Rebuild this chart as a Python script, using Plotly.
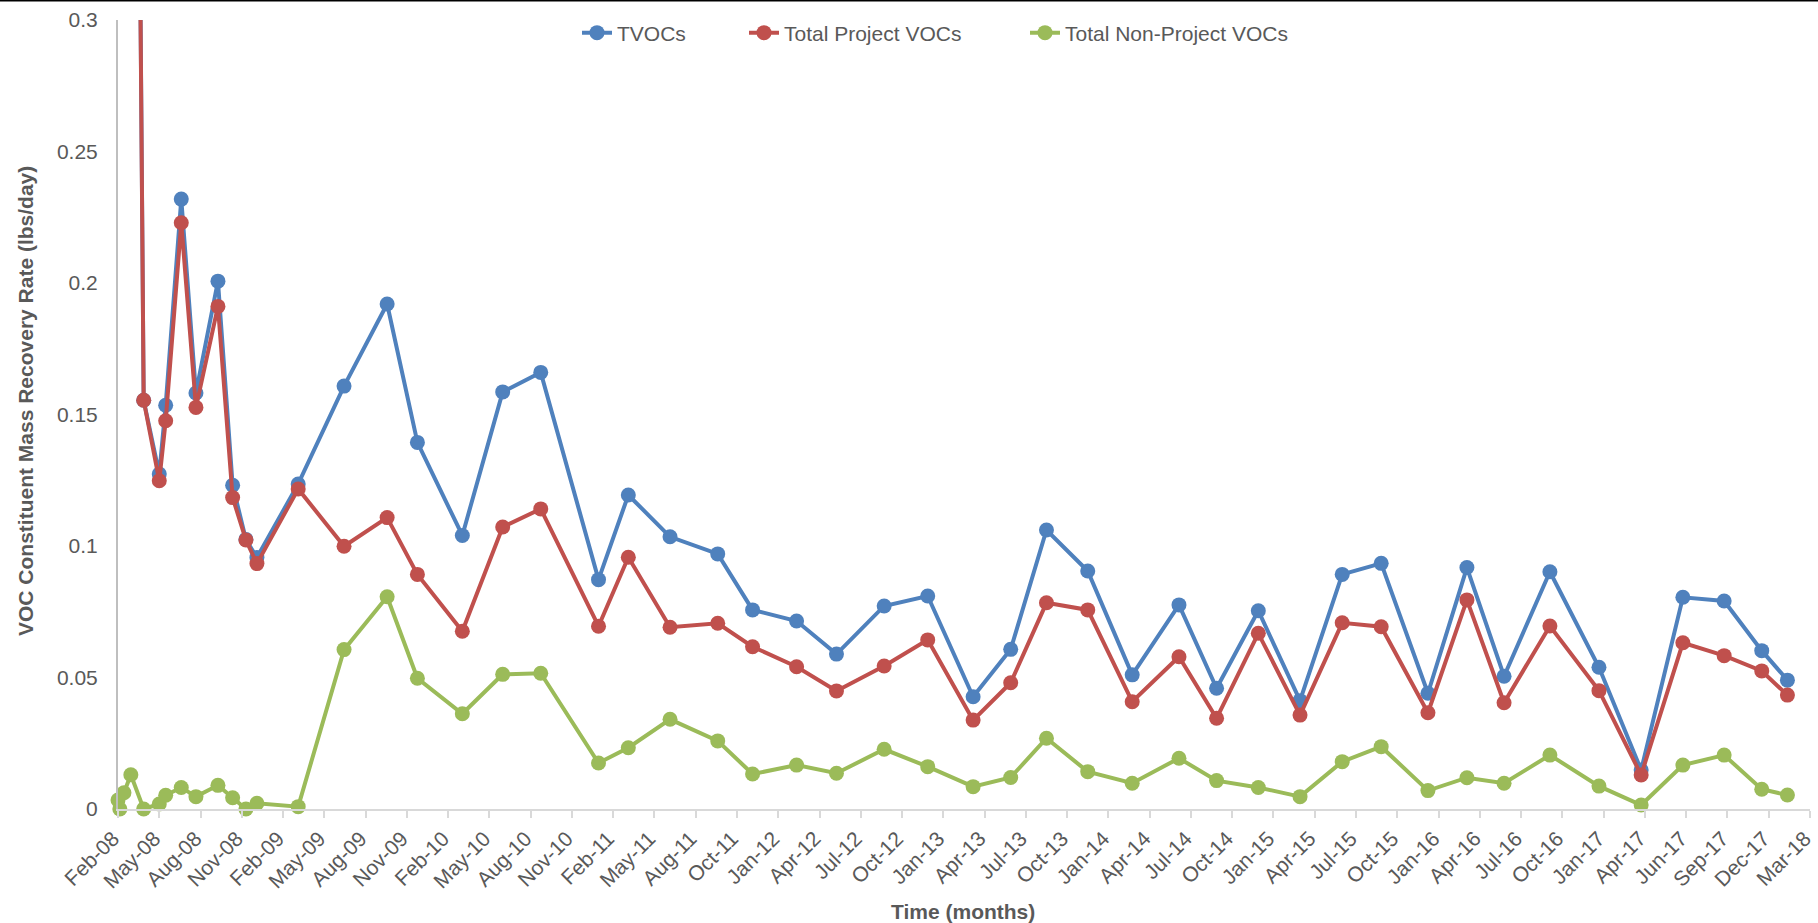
import datetime as dt
import plotly.graph_objects as go

# ---- data ----
DATES_PROJECT = ["2008-03-17", "2008-04-14", "2008-05-18", "2008-06-01", "2008-07-05", "2008-08-06",
                 "2008-09-23", "2008-10-25", "2008-11-23", "2008-12-17", "2009-03-17", "2009-06-25",
                 "2009-09-27", "2009-12-02", "2010-03-10", "2010-06-06", "2010-08-28", "2011-01-01",
                 "2011-03-07", "2011-06-06", "2011-09-18", "2011-12-03", "2012-03-08", "2012-06-03",
                 "2012-09-15", "2012-12-19", "2013-03-28", "2013-06-18", "2013-09-04", "2013-12-03",
                 "2014-03-10", "2014-06-20", "2014-09-10", "2014-12-10", "2015-03-11", "2015-06-11",
                 "2015-09-04", "2015-12-15", "2016-03-09", "2016-05-29", "2016-09-06", "2016-12-22",
                 "2017-03-24", "2017-06-23", "2017-09-21", "2017-12-12", "2018-02-06"]
DATES_NON_PROJECT = ["2008-02-18", "2008-02-22", "2008-03-02"] + DATES_PROJECT

TVOCS = [0.76, 0.1554, 0.1274, 0.1535, 0.2319, 0.1582, 0.2007, 0.1231, 0.1025, 0.0956,
         0.1236, 0.1608, 0.1920, 0.1394, 0.1040, 0.1586, 0.1660, 0.0872, 0.1194, 0.1035,
         0.0970, 0.0757, 0.0715, 0.0589, 0.0772, 0.0810, 0.0427, 0.0607, 0.1061, 0.0905,
         0.0510, 0.0776, 0.0459, 0.0754, 0.0412, 0.0892, 0.0934, 0.0440, 0.0918, 0.0505,
         0.0902, 0.0539, 0.0148, 0.0805, 0.0791, 0.0602, 0.0490]
PROJECT_VOCS = [0.75, 0.1554, 0.1248, 0.1476, 0.2229, 0.1527, 0.1911, 0.1184, 0.1023, 0.0933,
                0.1217, 0.0999, 0.1108, 0.0892, 0.0676, 0.1072, 0.1141, 0.0695, 0.0957, 0.0691,
                0.0706, 0.0617, 0.0541, 0.0449, 0.0544, 0.0643, 0.0338, 0.0480, 0.0784, 0.0757,
                0.0408, 0.0579, 0.0345, 0.0668, 0.0357, 0.0708, 0.0693, 0.0366, 0.0795, 0.0404,
                0.0696, 0.0450, 0.0129, 0.0632, 0.0583, 0.0525, 0.0433]
NON_PROJECT_VOCS = [0.0034, 0.0000, 0.0062, 0.0130, 0.0000, 0.0019, 0.0052, 0.0082, 0.0047, 0.0090,
                    0.0043, 0.0000, 0.0022, 0.0009, 0.0606, 0.0807, 0.0497, 0.0362, 0.0512, 0.0516,
                    0.0175, 0.0233, 0.0341, 0.0259, 0.0133, 0.0167, 0.0136, 0.0227, 0.0161, 0.0085,
                    0.0120, 0.0269, 0.0142, 0.0098, 0.0193, 0.0108, 0.0082, 0.0047, 0.0180, 0.0237,
                    0.0070, 0.0119, 0.0098, 0.0205, 0.0087, 0.0015, 0.0167, 0.0205, 0.0075, 0.0053]

SERIES_NAMES = ["TVOCs", "Total Project VOCs", "Total Non-Project VOCs"]

TICK_LABELS = ["Feb-08", "May-08", "Aug-08", "Nov-08", "Feb-09", "May-09", "Aug-09", "Nov-09",
               "Feb-10", "May-10", "Aug-10", "Nov-10", "Feb-11", "May-11", "Aug-11", "Oct-11",
               "Jan-12", "Apr-12", "Jul-12", "Oct-12", "Jan-13", "Apr-13", "Jul-13", "Oct-13",
               "Jan-14", "Apr-14", "Jul-14", "Oct-14", "Jan-15", "Apr-15", "Jul-15", "Oct-15",
               "Jan-16", "Apr-16", "Jul-16", "Oct-16", "Jan-17", "Apr-17", "Jun-17", "Sep-17",
               "Dec-17", "Mar-18"]
AXIS_START = dt.datetime(2008, 2, 18)
TICK_STEP_DAYS = 90

# ---- styling ----
COLORS = ["#4F81BD", "#C0504D", "#9BBB59"]
TEXT = "#595959"
FONT = "Liberation Sans, Arial, sans-serif"

tick_dates = [AXIS_START + dt.timedelta(days=TICK_STEP_DAYS * i) for i in range(len(TICK_LABELS))]
tick_vals = [d.strftime("%Y-%m-%d") for d in tick_dates]
range_end = (tick_dates[-1] + dt.timedelta(hours=6)).strftime("%Y-%m-%d %H:%M")

W, H = 1818, 923
ML, MR, MT, MB = 118, 8, 20, 114
pw, ph = W - ML - MR, H - MT - MB

def px_x(x):  # figure pixel -> paper x
    return (x - ML) / pw

def px_y(y):  # figure pixel -> paper y
    return 1 - (y - MT) / ph

LEGEND_TEXT_X = [620, 787, 1068]
LEGEND_KEYS = ["legend", "legend2", "legend3"]

fig = go.Figure()
for i, (name, xs, ys) in enumerate([
    (SERIES_NAMES[0], DATES_PROJECT, TVOCS),
    (SERIES_NAMES[1], DATES_PROJECT, PROJECT_VOCS),
    (SERIES_NAMES[2], DATES_NON_PROJECT, NON_PROJECT_VOCS),
]):
    fig.add_trace(go.Scatter(
        x=xs, y=ys, name=name, mode="lines+markers",
        line=dict(color=COLORS[i], width=4),
        marker=dict(color=COLORS[i], size=15),
        cliponaxis=False, legend=LEGEND_KEYS[i],
    ))

legend_common = dict(orientation="h", xanchor="left", yanchor="middle", y=px_y(33),
                     font=dict(size=21, color=TEXT), bgcolor="rgba(0,0,0,0)", borderwidth=0)

fig.update_layout(
    width=W, height=H,
    margin=dict(l=ML, r=MR, t=MT, b=MB, autoexpand=False),
    paper_bgcolor="white", plot_bgcolor="white",
    font=dict(family=FONT, color=TEXT, size=21),
    showlegend=True,
    legend=dict(x=px_x(LEGEND_TEXT_X[0] - 43), **legend_common),
    legend2=dict(x=px_x(LEGEND_TEXT_X[1] - 43), **legend_common),
    legend3=dict(x=px_x(LEGEND_TEXT_X[2] - 43), **legend_common),
    xaxis=dict(type="date", range=[tick_vals[0], range_end], automargin=False,
               tickmode="array", tickvals=tick_vals, ticktext=TICK_LABELS,
               ticklabeloverflow="allow", ticklabelshift=-5,
               tickangle=-45, ticks="outside", ticklen=7, tickwidth=2,
               tickcolor="#D9D9D9", showline=True, linecolor="#D9D9D9", linewidth=2,
               showgrid=False, zeroline=False, tickfont=dict(size=21, color=TEXT)),
    yaxis=dict(range=[0, 0.3], dtick=0.05, tick0=0, showline=True, linecolor="#BFBFBF",
               linewidth=2, showgrid=False, zeroline=False, ticks="", automargin=False,
               ticklabeloverflow="allow",
               ticklabelstandoff=14, tickfont=dict(size=21, color=TEXT)),
    annotations=[
        dict(text="<b>VOC Constituent Mass Recovery Rate (lbs/day)</b>", xref="paper", yref="paper",
             x=px_x(25), y=px_y(401), xanchor="center", yanchor="middle", textangle=-90,
             showarrow=False, font=dict(size=21, color=TEXT)),
        dict(text="<b>Time (months)</b>", xref="paper", yref="paper",
             x=px_x(963), y=px_y(911), xanchor="center", yanchor="middle",
             showarrow=False, font=dict(size=21, color=TEXT)),
    ],
    shapes=[dict(type="line", xref="paper", yref="paper", x0=-ML / pw, x1=1 + MR / pw,
                 y0=1 + MT / ph, y1=1 + MT / ph, line=dict(color="black", width=3))],
)

fig.write_html("out.html", config={"displayModeBar": False},
               post_script="document.body.style.margin='0';")
